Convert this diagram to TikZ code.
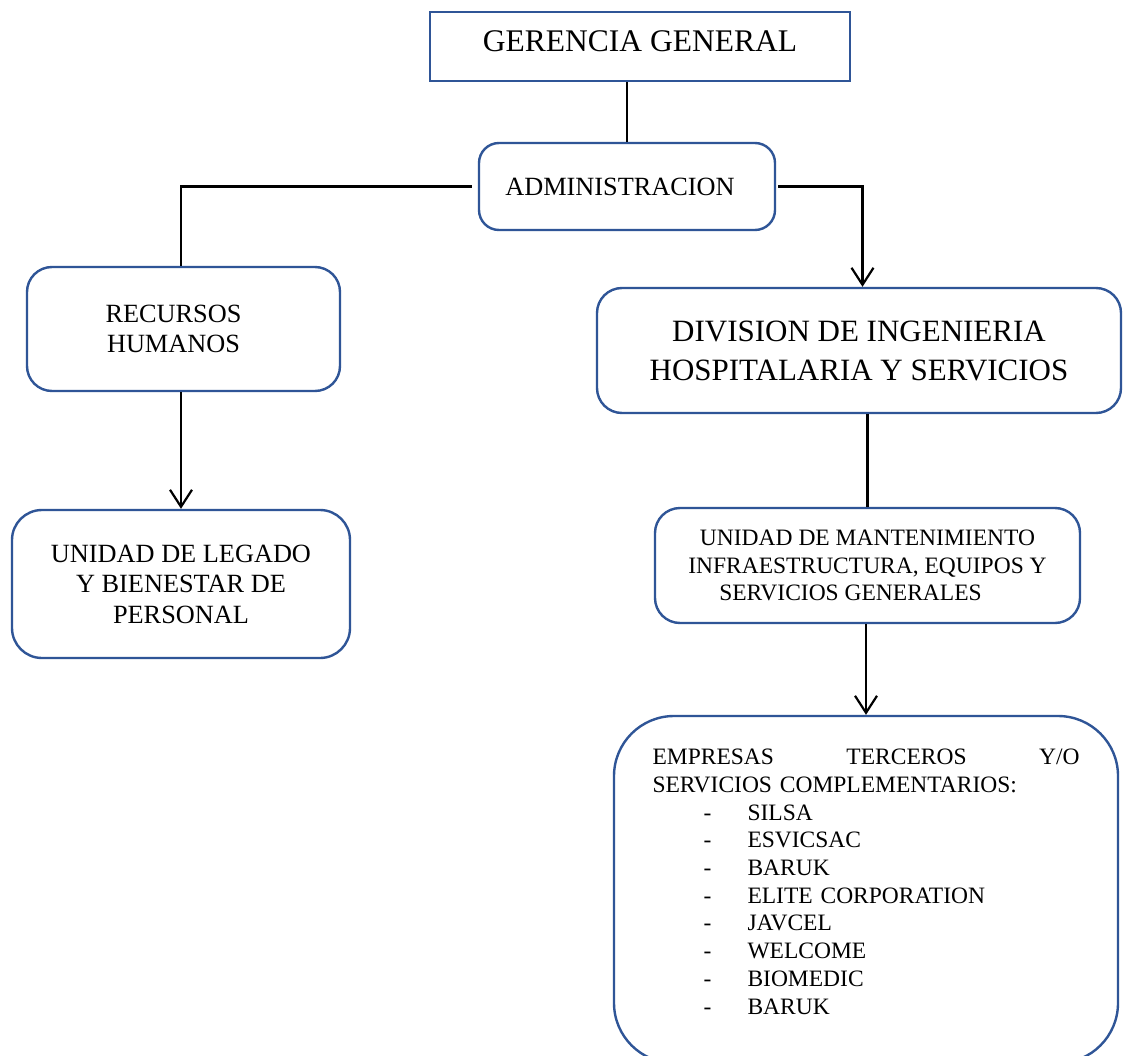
\documentclass[tikz,border=0pt]{standalone}
\usepackage{fontspec}
\setmainfont{Liberation Serif}
\usetikzlibrary{arrows.meta}
\definecolor{bord}{RGB}{47,85,151}
\newcommand\empitem[1]{\hspace*{51pt}\makebox[44pt][l]{-}#1}
\begin{document}
\begin{tikzpicture}[x=1pt,y=-1pt,
  box/.style={draw=bord,line width=2.4pt,fill=white,inner sep=0pt,align=center,text=black},
  rbox/.style={box,rounded corners=#1},
  conn/.style={line width=2.2pt,black},
  arr/.style={conn,-{Straight Barb[length=17pt,width=22pt]}},
  bigf/.style={font=\fontsize{31.5}{39}\selectfont},
  midf/.style={font=\fontsize{26.3}{30.5}\selectfont},
  smlf/.style={font=\fontsize{23.5}{27.7}\selectfont}
]
\useasboundingbox (0,0) rectangle (1123,1056);
\fill[white] (0,0) rectangle (1123,1056);
\clip (0,0) rectangle (1123,1056);

\node[box,bigf,minimum width=420pt,minimum height=69pt,text height=21pt,text depth=10pt] (gg) at (640,46.5) {GERENCIA GENERAL};
\node[rbox=20pt,midf,minimum width=296pt,minimum height=87pt] (adm) at (627,186.5) {ADMINISTRACION\hspace*{14pt}};
\node[rbox=25pt,midf,minimum width=313pt,minimum height=124pt] (rh) at (183.5,329) {RECURSOS\hspace*{20pt}\\HUMANOS\hspace*{20pt}};
\node[rbox=30pt,midf,minimum width=338pt,minimum height=148pt] (ul) at (181,584) {UNIDAD DE LEGADO\\Y BIENESTAR DE\\PERSONAL};
\node[rbox=25pt,bigf,font=\fontsize{31}{39}\selectfont,minimum width=524pt,minimum height=125pt] (div) at (859,350.5) {DIVISION DE INGENIERIA\\HOSPITALARIA Y SERVICIOS};
\node[rbox=25pt,smlf,minimum width=425pt,minimum height=115pt] (um) at (867.5,565.5) {UNIDAD DE MANTENIMIENTO\\INFRAESTRUCTURA, EQUIPOS Y\\SERVICIOS GENERALES\hspace*{34pt}};
\node[rbox=60pt,smlf,minimum width=504pt,minimum height=347pt,text width=427pt,align=left] (emp) at (866,889.5) {%
\makebox[427pt][s]{EMPRESAS\hfill TERCEROS\hfill Y/O}\\
SERVICIOS COMPLEMENTARIOS:\\
\empitem{SILSA}\\
\empitem{ESVICSAC}\\
\empitem{BARUK}\\
\empitem{ELITE CORPORATION}\\
\empitem{JAVCEL}\\
\empitem{WELCOME}\\
\empitem{BIOMEDIC}\\
\empitem{BARUK}\\[-12pt]\mbox{}};

\draw[conn] (adm.north |- gg.south) -- (adm.north);
\draw[conn] ([xshift=-6pt]adm.west) -| ([xshift=-2.5pt]rh.north);
\draw[arr] (ul.north |- rh.south) -- (ul.north);
\draw[arr] ([xshift=2pt]adm.east) -| ([xshift=3.5pt]div.north);
\draw[conn] (um.north |- div.south) -- (um.north);
\draw[arr] (emp.north |- um.south) -- (emp.north);
\end{tikzpicture}
\end{document}
